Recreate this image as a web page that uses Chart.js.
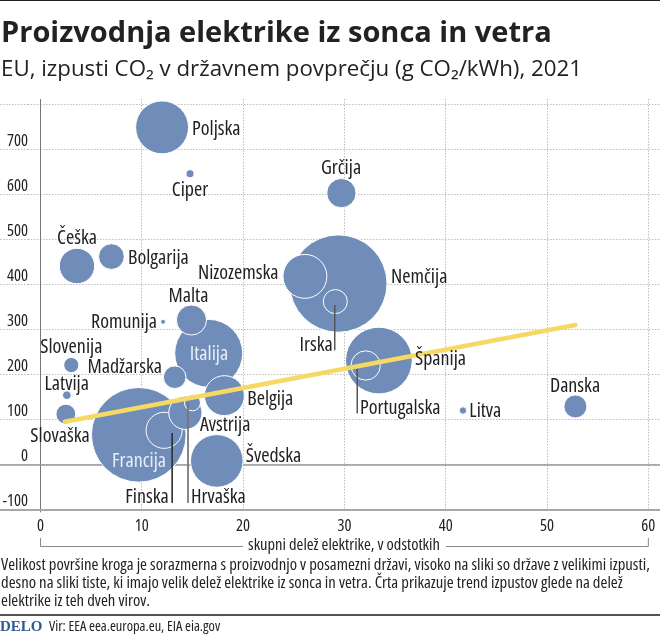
<!DOCTYPE html>
<html lang="sl">
<head>
<meta charset="utf-8">
<title>Proizvodnja elektrike iz sonca in vetra</title>
<script src="https://cdn.jsdelivr.net/npm/chart.js@4"></script>
<style>
  html, body { margin: 0; padding: 0; background: #fff; }
  #page { position: relative; width: 660px; height: 639px; overflow: hidden; color: #222; }
  #page canvas { position: absolute; left: 0; top: 0; }
  .txt { position: absolute; white-space: nowrap; transform-origin: left center; }
  #top-rule { position: absolute; left: 0; top: 0; width: 660px; height: 1px; background: #222; }
  #bottom-rule { position: absolute; left: 0; top: 614px; width: 660px; height: 2px; background: #555; }
  #title { left: 1px; top: 13px; font: 700 29px/36px "Open Sans", sans-serif; }
  #subtitle { left: 1px; top: 54px; font: 400 22.3px/28px "Open Sans", sans-serif; }
  .note { left: 1px; font: condensed 400 16.7px/18px "Open Sans", sans-serif; }
  #logo { left: 0; top: 617px; font: 700 15px/18px "Liberation Serif", serif; color: #2f5a96; }
  #source { left: 49px; top: 617px; font: condensed 400 14.4px/18px "Open Sans", sans-serif; }
</style>
</head>
<body>
<div id="page">
  <canvas id="chart" width="660" height="639"></canvas>
  <div id="top-rule"></div>
  <div id="title" class="txt">Proizvodnja elektrike iz sonca in vetra</div>
  <div id="subtitle" class="txt">EU, izpusti CO₂ v državnem povprečju (g CO₂/kWh), 2021</div>
  <div class="txt note" style="top:555px">Velikost površine kroga je sorazmerna s proizvodnjo v posamezni državi, visoko na sliki so države z velikimi izpusti,</div>
  <div class="txt note" style="top:573px">desno na sliki tiste, ki imajo velik delež elektrike iz sonca in vetra. Črta prikazuje trend izpustov glede na delež</div>
  <div class="txt note" style="top:591px">elektrike iz teh dveh virov.</div>
  <div id="bottom-rule"></div>
  <div id="logo" class="txt">DELO</div>
  <div id="source" class="txt">Vir: EEA eea.europa.eu, EIA eia.gov</div>
</div>
<script>
// Countries, biggest producers first so the small circles stay on top
const countries = ['Nemčija', 'Francija', 'Italija', 'Španija', 'Poljska', 'Švedska', 'Nizozemska', 'Belgija', 'Finska', 'Češka', 'Avstrija', 'Malta', 'Grčija', 'Portugalska', 'Bolgarija', 'Irska', 'Danska', 'Madžarska', 'Slovaška', 'Hrvaška', 'Slovenija', 'Latvija', 'Ciper', 'Litva', 'Romunija'];
const windSolarShare = [29.4, 9.7, 16.6, 33.4, 12.0, 17.4, 26.1, 18.15, 12.2, 3.6, 14.3, 14.9, 29.7, 32.1, 7.0, 29.1, 52.8, 13.25, 2.5, 15.0, 3.04, 2.6, 14.76, 41.7, 12.1];
const co2Emissions = [403, 67, 248, 232, 750, 9, 419, 154, 77, 442, 116, 322, 604, 221, 463, 363, 130, 195, 113, 138, 222, 155, 647, 121, 318];
const production = [575, 543, 280, 270, 170, 168, 117, 97, 79, 76, 67, 55, 52, 52, 40, 35, 32, 31, 24, 15.5, 14, 4.5, 3.9, 3.3, 1.5];

const trendShare = [2.4, 52.8];
const trendEmissions = [96, 311];

const xTicks = [0, 10, 20, 30, 40, 50, 60];
const yTicks = [-100, 0, 100, 200, 300, 400, 500, 600, 700, 800];
const yTickLabels = ['-100', '0', '100', '200', '300', '400', '500', '600', '700', ''];
const xAxisTitle = 'skupni delež elektrike, v odstotkih';

// Thin lines from a circle down to its label: x, from y, to y
const leaderFinska = [13.0, 71, -84];
const leaderHrvaska = [14.56, 138, -84];
const leaderIrska = [29.04, 355, 255];
const leaderPortugalska = [31.27, 216, 115];

const BLUE = '#6f8db8';
const YELLOW = '#f6d965';
const FAMILY = '"Open Sans", sans-serif';
const LABEL_FONT = 'condensed 20px ' + FAMILY;

// Label placement in page pixels: x, y, align
const labelSpots = {
  'Poljska': [192, 129, 'left'],
  'Ciper': [190, 190, 'center'],
  'Grčija': [341, 168, 'center'],
  'Češka': [77, 238, 'center'],
  'Bolgarija': [128, 258, 'left'],
  'Nizozemska': [278.5, 273, 'right'],
  'Nemčija': [391, 277, 'left'],
  'Malta': [188.5, 296, 'center'],
  'Romunija': [157, 322, 'right'],
  'Irska': [299.5, 345, 'left'],
  'Slovenija': [71.3, 347, 'center'],
  'Madžarska': [162, 367, 'right'],
  'Latvija': [66.7, 384, 'center'],
  'Slovaška': [60, 436, 'center'],
  'Italija': [209, 354, 'center'],
  'Francija': [139, 461, 'center'],
  'Belgija': [247.3, 399, 'left'],
  'Avstrija': [200, 425, 'left'],
  'Švedska': [245.7, 456, 'left'],
  'Finska': [168.7, 497, 'right'],
  'Hrvaška': [191, 497, 'left'],
  'Španija': [415, 359, 'left'],
  'Portugalska': [360, 408, 'left'],
  'Litva': [469.3, 411, 'left'],
  'Danska': [575, 386, 'center']
};

// Circle area follows production
function radiusFor(value) {
  return 2.03 * Math.sqrt(value);
}

function leaderDataset(leader, color) {
  return {
    type: 'line',
    data: [{ x: leader[0], y: leader[1] }, { x: leader[0], y: leader[2] }],
    borderColor: color,
    borderWidth: 1,
    pointRadius: 0,
    order: 1,
    clip: false
  };
}

// Country names and the bracket around the x axis title
const labelPlugin = {
  id: 'countryLabels',
  afterDatasetsDraw(chart) {
    const ctx = chart.ctx;
    ctx.save();
    ctx.font = LABEL_FONT;
    ctx.textBaseline = 'middle';
    countries.forEach(name => {
      const spot = labelSpots[name];
      ctx.textAlign = spot[2];
      ctx.fillStyle = (name === 'Italija' || name === 'Francija') ? '#e8eef6' : '#222';
      ctx.fillText(name, spot[0], spot[1]);
    });

    const xScale = chart.scales.x;
    const left = xScale.getPixelForValue(0);
    const right = xScale.getPixelForValue(60);
    ctx.strokeStyle = '#8a8a8a';
    ctx.lineWidth = 1;
    ctx.beginPath();
    ctx.moveTo(left, 538);
    ctx.lineTo(left, 546.5);
    ctx.lineTo(243, 546.5);
    ctx.moveTo(446, 546.5);
    ctx.lineTo(right, 546.5);
    ctx.lineTo(right, 538);
    ctx.stroke();
    ctx.restore();
  }
};

// weight ends up first in the canvas font string, so the stretch keyword goes there
const tickFont = { family: FAMILY, weight: 'condensed', size: 16.5 };

const ctx = document.getElementById('chart').getContext('2d');
new Chart(ctx, {
  data: {
    datasets: [
      {
        type: 'line',
        data: trendShare.map((x, i) => ({ x: x, y: trendEmissions[i] })),
        borderColor: YELLOW,
        borderWidth: 4.5,
        borderCapStyle: 'round',
        pointRadius: 0,
        order: 0,
        clip: false
      },
      leaderDataset(leaderFinska, '#333'),
      leaderDataset(leaderHrvaska, '#777'),
      leaderDataset(leaderIrska, '#555'),
      leaderDataset(leaderPortugalska, '#555'),
      {
        type: 'bubble',
        data: countries.map((name, i) => ({ x: windSolarShare[i], y: co2Emissions[i], r: radiusFor(production[i]) })),
        backgroundColor: BLUE,
        borderColor: '#fff',
        borderWidth: 1,
        order: 2,
        clip: false
      },
      // Solid axis lines sit under the circles
      {
        type: 'line',
        data: [{ x: -5, y: 0 }, { x: 62, y: 0 }],
        borderColor: '#999',
        borderWidth: 1.5,
        pointRadius: 0,
        order: 3,
        clip: false
      },
      {
        type: 'line',
        data: [{ x: -5, y: -100 }, { x: 62, y: -100 }],
        borderColor: '#a8a8a8',
        borderWidth: 2,
        pointRadius: 0,
        order: 3,
        clip: false
      },
      {
        type: 'line',
        data: [{ x: 0, y: -105 }, { x: 0, y: 813 }],
        borderColor: '#777',
        borderWidth: 1,
        pointRadius: 0,
        order: 3,
        clip: false
      }
    ]
  },
  options: {
    responsive: false,
    animation: false,
    layout: { autoPadding: false, padding: { top: 99, bottom: 84 } },
    plugins: {
      legend: { display: false },
      tooltip: { enabled: false }
    },
    scales: {
      x: {
        type: 'linear',
        min: -1.234,
        max: 61.15,
        afterBuildTicks(scale) { scale.ticks = xTicks.map(v => ({ value: v })); },
        afterFit(scale) { scale.height = 45; scale.paddingLeft = 0; scale.paddingRight = 0; },
        border: { display: false, dash: [1.5, 1.5] },
        grid: { color: '#bdbdbd', drawTicks: false },
        ticks: {
          autoSkip: false,
          maxRotation: 0,
          padding: 6,
          color: '#222',
          font: tickFont
        },
        title: {
          display: true,
          text: xAxisTitle,
          color: '#222',
          padding: 0,
          font: tickFont
        }
      },
      y: {
        type: 'linear',
        min: -100,
        max: 813,
        afterBuildTicks(scale) { scale.ticks = yTicks.map(v => ({ value: v })); },
        afterFit(scale) { scale.width = 28; scale.paddingTop = 0; scale.paddingBottom = 0; },
        border: { display: false, dash: [1.5, 1.5] },
        grid: { color: '#bdbdbd', tickLength: 28, tickColor: '#bdbdbd', tickBorderDash: [1.5, 1.5] },
        ticks: {
          autoSkip: false,
          padding: -28,
          labelOffset: -9,
          color: '#222',
          font: tickFont,
          callback: (value, i) => yTickLabels[i]
        }
      }
    }
  },
  plugins: [labelPlugin]
});
</script>
</body>
</html>
